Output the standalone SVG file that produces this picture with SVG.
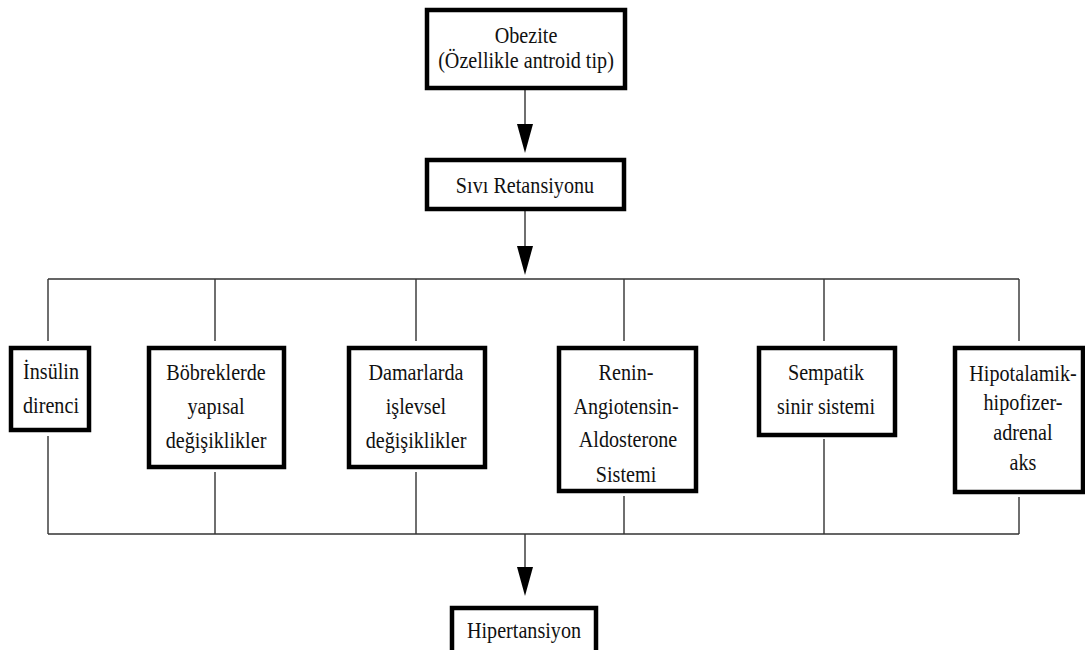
<svg xmlns="http://www.w3.org/2000/svg" width="1085" height="650" viewBox="0 0 1085 650">
<style>
.box{fill:#fff;stroke:#000;stroke-width:4.5}
.ln{fill:none;stroke:#333;stroke-width:1.4}
.t{font-family:"Liberation Serif","Times New Roman",serif;font-size:24px;fill:#111;text-anchor:middle}
</style>
<defs>
<path id="ah" d="M-8,0 L8,0 L0,29 Z" fill="#000"/>
</defs>
<rect width="1085" height="650" fill="#fff"/>
<g id="connectors">
<path class="ln" d="M525,90 V124 M525,211 V247 M48,279 H1019 M48,279 V341 M215,279 V341 M416,279 V341 M624,279 V341 M824,279 V341 M1019,279 V341 M48,436 V534 M215,472 V534 M416,472 V534 M624,496 V534 M824,439 V534 M1019,497 V534 M48,534 H1019 M525,534 V568"/>
<use href="#ah" x="525" y="124"/>
<use href="#ah" x="525" y="246"/>
<use href="#ah" x="525" y="567"/>
</g>
<g id="obezite">
<rect class="box" x="427" y="10" width="198" height="78"/>
<text class="t" transform="translate(526 0) scale(0.84 1)" x="0" y="43">Obezite</text>
<text class="t" transform="translate(526 0) scale(0.84 1)" x="0" y="68">(Özellikle antroid tip)</text>
</g>
<g id="sivi">
<rect class="box" x="427" y="160" width="197" height="49"/>
<text class="t" transform="translate(525 0) scale(0.84 1)" x="0" y="193">Sıvı Retansiyonu</text>
</g>
<g id="insulin">
<rect class="box" x="11" y="348" width="78" height="82"/>
<text class="t" transform="translate(51 0) scale(0.84 1)" x="0" y="379">İnsülin</text>
<text class="t" transform="translate(51 0) scale(0.84 1)" x="0" y="413">direnci</text>
</g>
<g id="bobrek">
<rect class="box" x="149" y="348" width="135" height="119"/>
<text class="t" transform="translate(216 0) scale(0.84 1)" x="0" y="380">Böbreklerde</text>
<text class="t" transform="translate(216 0) scale(0.84 1)" x="0" y="414">yapısal</text>
<text class="t" transform="translate(216 0) scale(0.84 1)" x="0" y="448">değişiklikler</text>
</g>
<g id="damar">
<rect class="box" x="349" y="348" width="136" height="119"/>
<text class="t" transform="translate(416 0) scale(0.84 1)" x="0" y="380">Damarlarda</text>
<text class="t" transform="translate(416 0) scale(0.84 1)" x="0" y="414">işlevsel</text>
<text class="t" transform="translate(416 0) scale(0.84 1)" x="0" y="448">değişiklikler</text>
</g>
<g id="renin">
<rect class="box" x="559" y="348" width="137" height="143"/>
<text class="t" transform="translate(626 0) scale(0.84 1)" x="0" y="380">Renin-</text>
<text class="t" transform="translate(626 0) scale(0.84 1)" x="0" y="414">Angiotensin-</text>
<text class="t" transform="translate(628 0) scale(0.84 1)" x="0" y="447">Aldosterone</text>
<text class="t" transform="translate(626 0) scale(0.84 1)" x="0" y="482">Sistemi</text>
</g>
<g id="sempatik">
<rect class="box" x="759" y="348" width="136" height="87"/>
<text class="t" transform="translate(826 0) scale(0.84 1)" x="0" y="380">Sempatik</text>
<text class="t" transform="translate(826 0) scale(0.84 1)" x="0" y="414">sinir sistemi</text>
</g>
<g id="hipotalamik">
<rect class="box" x="955" y="348" width="128" height="144"/>
<text class="t" transform="translate(1023 0) scale(0.84 1)" x="0" y="381">Hipotalamik-</text>
<text class="t" transform="translate(1023 0) scale(0.84 1)" x="0" y="410">hipofizer-</text>
<text class="t" transform="translate(1023 0) scale(0.84 1)" x="0" y="440">adrenal</text>
<text class="t" transform="translate(1023 0) scale(0.84 1)" x="0" y="470">aks</text>
</g>
<g id="hipertansiyon">
<rect class="box" x="452" y="608" width="144" height="60"/>
<text class="t" transform="translate(524 0) scale(0.84 1)" x="0" y="638">Hipertansiyon</text>
</g>
</svg>
